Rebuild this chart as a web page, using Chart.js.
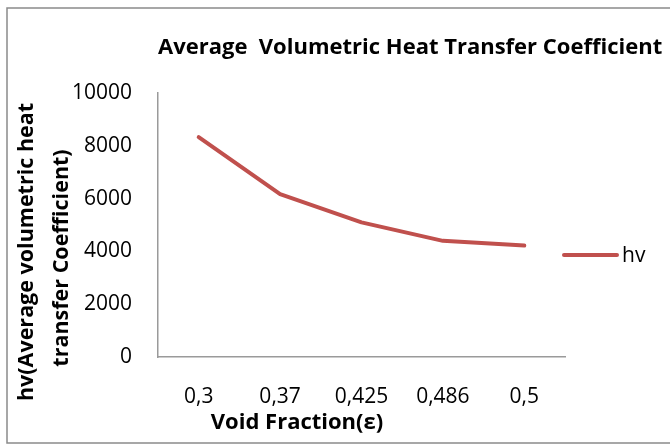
<!DOCTYPE html>
<html>
<head>
<meta charset="utf-8">
<title>Average Volumetric Heat Transfer Coefficient</title>
<script src="https://cdn.jsdelivr.net/npm/chart.js@4/dist/chart.umd.min.js"></script>
<style>
    html, body { margin: 0; padding: 0; background: #ffffff; }
    #wrap { position: relative; width: 670px; height: 446px; }
</style>
</head>
<body>
<div id="wrap"><canvas id="grafico" width="670" height="446"></canvas></div>
<script>
// datos del grafico
var fracciones = ['0,3', '0,37', '0,425', '0,486', '0,5'];
var hv = [8330, 6170, 5100, 4400, 4220];
var etiquetaSerie = 'hv';
var tituloGrafico = 'Average  Volumetric Heat Transfer Coefficient';
var tituloX = 'Void Fraction(\u03b5)';
var tituloY = ['hv(Average volumetric heat', 'transfer Coefficient)'];

var fuente = '"Open Sans", Lato, sans-serif';
var rojo = '#C0504D';
var gris = '#9a9a9a';

// ajusta el tamaño de letra para que el texto ocupe el ancho dado
function fuenteAjustada(ctx, texto, peso, ancho, maximo) {
    var t = maximo;
    ctx.font = peso + ' ' + t + 'px ' + fuente;
    while (t > 10 && ctx.measureText(texto).width > ancho) {
        t -= 0.5;
        ctx.font = peso + ' ' + t + 'px ' + fuente;
    }
}

// titulos, leyenda y marco dibujados a mano
var textosExtra = {
    id: 'textosExtra',
    afterDraw: function (chart) {
        var ctx = chart.ctx;
        var area = chart.chartArea;
        ctx.save();

        // marco exterior
        ctx.strokeStyle = '#8a8a8a';
        ctx.lineWidth = 1.5;
        ctx.strokeRect(7, 8, 700, 435);

        ctx.fillStyle = '#000000';
        ctx.textBaseline = 'alphabetic';

        // titulo
        fuenteAjustada(ctx, tituloGrafico, 'bold', 506, 22);
        ctx.textAlign = 'left';
        ctx.fillText(tituloGrafico, 158, 54);

        // titulo eje x
        fuenteAjustada(ctx, tituloX, 'bold', 182, 22);
        ctx.textAlign = 'center';
        ctx.fillText(tituloX, 297, 429);

        // titulo eje y (dos lineas, rotado)
        fuenteAjustada(ctx, tituloY[0], 'bold', 304, 22);
        ctx.translate(0, 252);
        ctx.rotate(-Math.PI / 2);
        ctx.fillText(tituloY[0], 0, 33);
        ctx.fillText(tituloY[1], -6, 68);
        ctx.setTransform(1, 0, 0, 1, 0, 0);

        // leyenda
        var ds = chart.data.datasets[0];
        ctx.strokeStyle = ds.borderColor;
        ctx.lineWidth = 4;
        ctx.lineCap = 'round';
        ctx.beginPath();
        ctx.moveTo(area.right - 1, 255);
        ctx.lineTo(area.right + 52, 255);
        ctx.stroke();
        ctx.font = '21px ' + fuente;
        ctx.textAlign = 'left';
        ctx.textBaseline = 'middle';
        ctx.fillText(ds.label, area.right + 57, 256);

        ctx.restore();
    }
};

var ctx = document.getElementById('grafico').getContext('2d');
var miGrafico = new Chart(ctx, {
    type: 'line',
    data: {
        labels: fracciones,
        datasets: [{
            label: etiquetaSerie,
            data: hv,
            borderColor: rojo,
            backgroundColor: rojo,
            borderWidth: 4,
            borderCapStyle: 'round',
            borderJoinStyle: 'round',
            pointRadius: 0,
            pointHoverRadius: 0,
            tension: 0,
            fill: false
        }]
    },
    options: {
        responsive: false,
        animation: false,
        devicePixelRatio: 1,
        layout: {
            padding: { left: 0, top: 93, right: 105, bottom: 0 }
        },
        plugins: {
            legend: { display: false },
            title: { display: false },
            tooltip: { enabled: false }
        },
        scales: {
            x: {
                offset: true,
                grid: { display: false, drawTicks: false },
                border: { display: true, color: gris, width: 1.5 },
                ticks: {
                    color: '#000000',
                    padding: 27,
                    maxRotation: 0,
                    font: { family: fuente, size: 21 }
                },
                afterFit: function (scale) { scale.height = 89; }
            },
            y: {
                min: 0,
                max: 10000,
                grid: { display: false, drawTicks: false },
                border: { display: true, color: gris, width: 1.5 },
                ticks: {
                    stepSize: 2000,
                    color: '#000000',
                    padding: 26,
                    font: { family: fuente, size: 21 },
                    callback: function (valor) { return String(valor); }
                },
                afterFit: function (scale) { scale.width = 158; }
            }
        }
    },
    plugins: [textosExtra]
});
</script>
</body>
</html>
